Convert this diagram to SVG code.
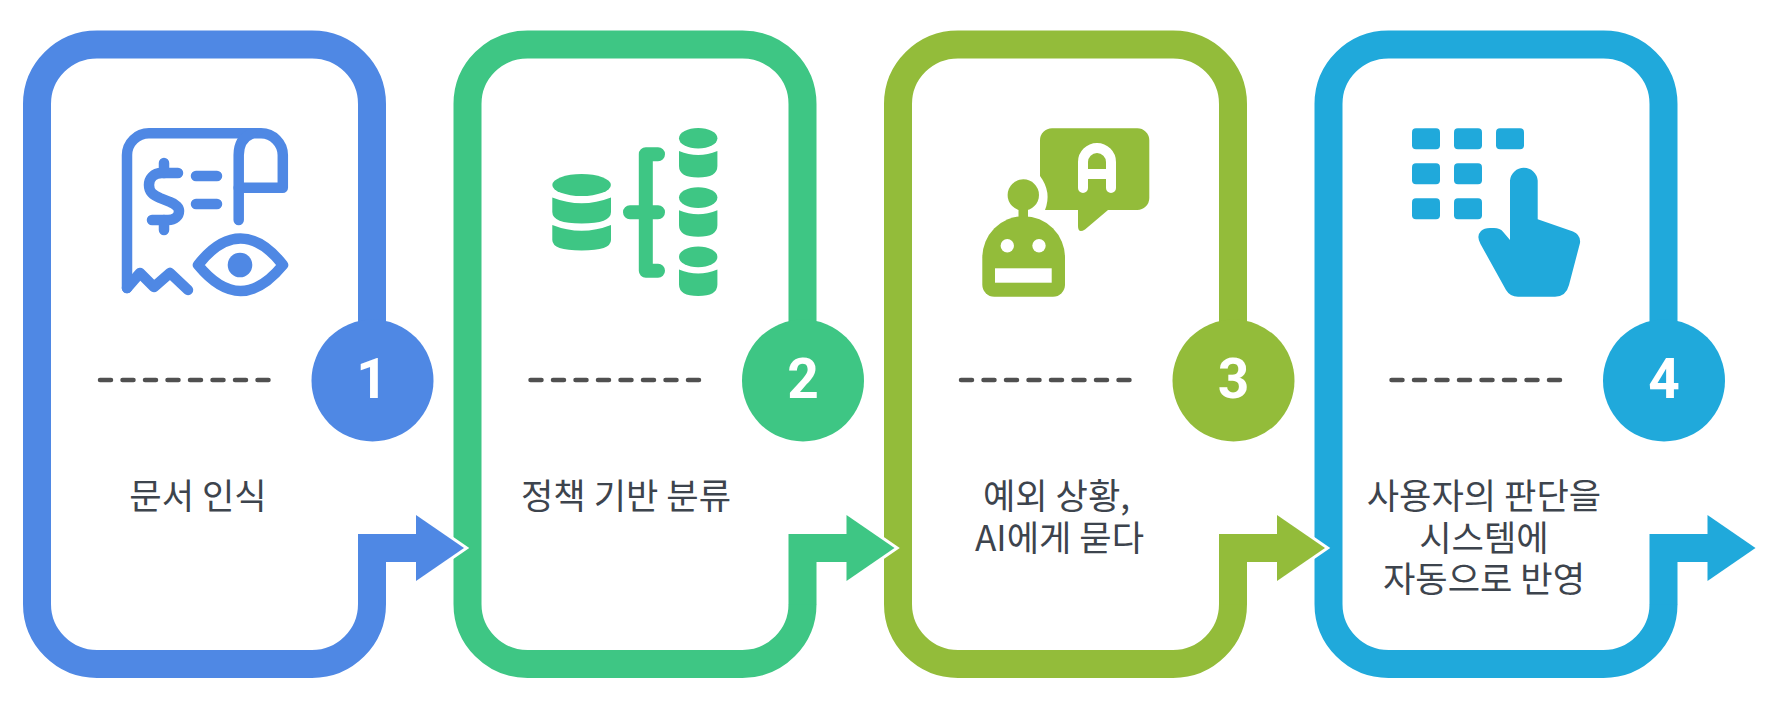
<svg xmlns="http://www.w3.org/2000/svg" width="1780" height="716" viewBox="0 0 1780 716">
<style>
.c1{--c:#4f88e4}.c2{--c:#3ec684}.c3{--c:#93bc3a}.c4{--c:#20a9db}
.frame{fill:none;stroke:var(--c);stroke-width:28}
.badge{fill:var(--c)}
.shaft{fill:none;stroke:var(--c);stroke-width:28;stroke-linejoin:miter}
.head{fill:var(--c);stroke:#fff;stroke-width:6;stroke-linejoin:miter;paint-order:stroke}
.dash{stroke:#505050;stroke-width:4.5;stroke-dasharray:11 11.5;stroke-linecap:round;fill:none}
.num{font-family:Roboto,"Liberation Sans",sans-serif;font-weight:700;font-size:55px;fill:#fff;text-anchor:middle}
.lab{font-family:"Noto Sans CJK KR","Noto Sans",sans-serif;font-size:35.2px;fill:#3d444d;text-anchor:middle}
.il{fill:none;stroke:var(--c);stroke-width:10.5;stroke-linecap:round;stroke-linejoin:round}
.if{fill:var(--c)}
.iw{fill:#fff}
.iwl{fill:none;stroke:#fff;stroke-width:10;stroke-linecap:round;stroke-linejoin:round}
</style>
<defs>
<path id="fr" d="M372 340V104A60 59.5 0 0 0 312 44.5H97A60 59.5 0 0 0 37 104V604A60 60 0 0 0 97 664H312A60 60 0 0 0 372 604"/>
<g id="smalldb">
<ellipse cx="698.2" cy="138.3" rx="19.2" ry="10.3"/>
<path d="M679 151Q698.2 159 717.4 151V166Q717.4 177.5 698.2 177.5Q679 177.5 679 166Z"/>
</g>
<g id="arrow">
<polygon class="head" points="416,515 464,548 416,581"/>
<path class="shaft" d="M372 604.3V548H430"/>
</g>
</defs>
<g id="node-1" class="c1">
<use href="#fr" class="frame"/>
<circle class="badge" cx="372.5" cy="380.5" r="61"/>
<text class="num" x="372" y="397.5">1</text>
<line class="dash" x1="100" y1="380" x2="268.5" y2="380"/>
<text class="lab" x="198" y="509">문서 인식</text>
<g class="il">
<path d="M127 288V155A22 22 0 0 1 149 133.3H261A22 22 0 0 1 282.8 155V187.7H238.7"/>
<path d="M238.7 220V155C238.7 145 243 137 252 133.3"/>
<path d="M127 288L140 273L154 287L170 273L188 290"/>
<path d="M178 173H162C153 173 149 179 149 185C149 192 153 195 160 198L170 202C176 204 179 208 179 211C179 216 175 220 168 220H152"/>
<path d="M164 163V173M164 220V230M196 176H217M196 204H217"/>
<path d="M198 265C212 247 226 238.5 240.5 238.5C255 238.5 269 247 283 265C269 282 255 291 240.5 291C226 291 212 282 198 265Z"/>
</g>
<circle class="if" cx="240" cy="265" r="12.3"/>
</g>
<g id="node-2" class="c2">
<g transform="translate(430.5 0)">
<use href="#fr" class="frame"/>
<circle class="badge" cx="372.5" cy="380.5" r="61"/>
<text class="num" x="372.5" y="397.5">2</text>
<line class="dash" x1="100" y1="380" x2="268.5" y2="380"/>
<text class="lab" x="195.5" y="509">정책 기반 분류</text>
</g>
<g class="if">
<ellipse cx="581.6" cy="185" rx="29.3" ry="11"/>
<path d="M552.3 197.5Q581.6 209 611 197.5V212Q611 223.5 581.6 223.5Q552.3 223.5 552.3 212Z"/>
<path d="M552.3 225Q581.6 236.5 611 225V240Q611 250.5 581.6 250.5Q552.3 250.5 552.3 240Z"/>
<use href="#smalldb"/>
<use href="#smalldb" y="59.3"/>
<use href="#smalldb" y="118.6"/>
</g>
<path class="il" style="stroke-width:14" d="M658 154.3H645.8V270.7H658M630 212.3H658"/>
</g>
<g id="node-3" class="c3">
<g transform="translate(861 0)">
<use href="#fr" class="frame"/>
<circle class="badge" cx="372.5" cy="380.5" r="61"/>
<text class="num" x="372.5" y="397.5">3</text>
<line class="dash" x1="100" y1="380" x2="268.5" y2="380"/>
<text class="lab" x="195.5" y="509">예외 상황,</text>
<text class="lab" x="198.5" y="551">AI에게 묻다</text>
</g>
<path class="if" d="M1052 128.3H1137A12 12 0 0 1 1149.3 140.3V198A12 12 0 0 1 1137 210H1108L1085 229.5Q1078 234 1078 226V210H1045Q1052 192 1040 176V140.3A12 12 0 0 1 1052 128.3Z"/>
<path class="iwl" d="M1083 188V162A14 14 0 0 1 1111 162V188M1083 174H1111"/>
<circle class="if" cx="1023.3" cy="195" r="15.7"/>
<rect class="if" x="1018.5" y="205" width="9.5" height="14"/>
<path class="if" d="M982.3 257.5A41.3 41.3 0 0 1 1065 257.5V284.7A12 12 0 0 1 1053 296.7H994.3A12 12 0 0 1 982.3 284.7Z"/>
<circle class="iw" cx="1007.3" cy="245.7" r="6.7"/>
<circle class="iw" cx="1039" cy="245.7" r="6.7"/>
<rect class="iw" x="995" y="268.3" width="56.7" height="14.4"/>
</g>
<g id="node-4" class="c4">
<g transform="translate(1291.5 0)">
<use href="#fr" class="frame"/>
<circle class="badge" cx="372.5" cy="380.5" r="61"/>
<text class="num" x="372.5" y="397.5">4</text>
<line class="dash" x1="100" y1="380" x2="268.5" y2="380"/>
<text class="lab" x="192.5" y="509">사용자의 판단을</text>
<text class="lab" x="192.5" y="551">시스템에</text>
<text class="lab" x="192.5" y="592">자동으로 반영</text>
</g>
<g class="if">
<rect x="1412" y="128.3" width="28" height="21" rx="4"/><rect x="1454" y="128.3" width="28" height="21" rx="4"/><rect x="1496" y="128.3" width="28" height="21" rx="4"/>
<rect x="1412" y="163.3" width="28" height="21" rx="4"/><rect x="1454" y="163.3" width="28" height="21" rx="4"/>
<rect x="1412" y="198.3" width="28" height="21" rx="4"/><rect x="1454" y="198.3" width="28" height="21" rx="4"/>
<path d="M1510 180.5A13.9 13.9 0 0 1 1537.7 180.5V219.3L1573 231.5Q1581 235 1580 243L1569 285Q1566 296.7 1555 296.7H1518Q1510 296.7 1506 290L1480.5 244Q1476 236 1481 231Q1484 228 1490 228H1494Q1500 228 1503 231.7L1510 240Z"/>
</g>
</g>
<g id="connectors">
<g class="c1"><use href="#arrow"/></g>
<g class="c2" transform="translate(430.5 0)"><use href="#arrow"/></g>
<g class="c3" transform="translate(861 0)"><use href="#arrow"/></g>
<g class="c4" transform="translate(1291.5 0)"><use href="#arrow"/></g>
</g>
</svg>
